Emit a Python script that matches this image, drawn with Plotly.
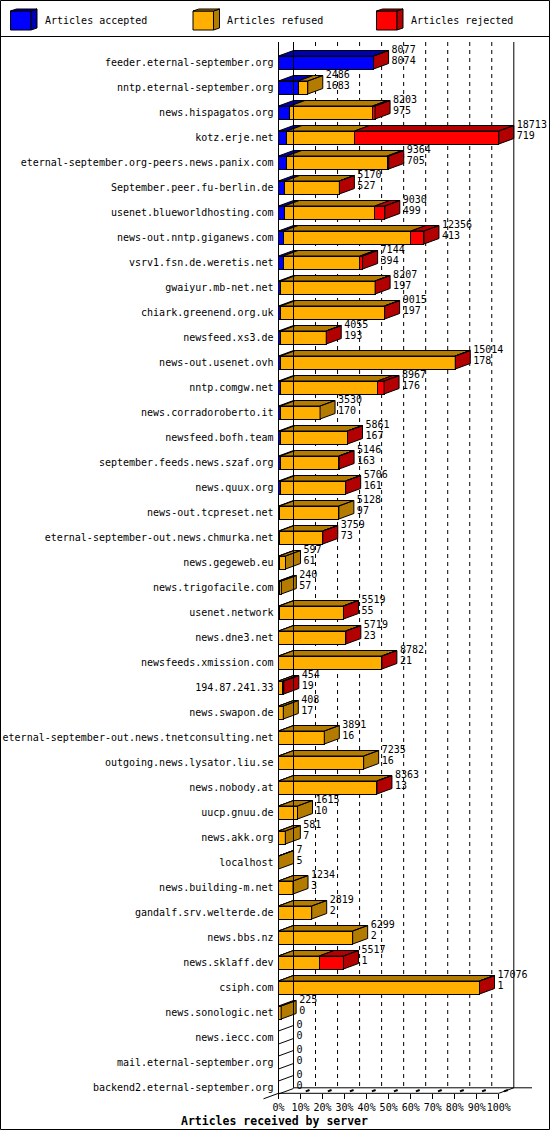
import plotly.graph_objects as go

# Articles received by server (innreport style 3D bars)
servers = [
    'feeder.eternal-september.org', 'nntp.eternal-september.org', 'news.hispagatos.org',
    'kotz.erje.net', 'eternal-september.org-peers.news.panix.com', 'September.peer.fu-berlin.de',
    'usenet.blueworldhosting.com', 'news-out.nntp.giganews.com', 'vsrv1.fsn.de.weretis.net',
    'gwaiyur.mb-net.net', 'chiark.greenend.org.uk', 'newsfeed.xs3.de', 'news-out.usenet.ovh',
    'nntp.comgw.net', 'news.corradoroberto.it', 'newsfeed.bofh.team',
    'september.feeds.news.szaf.org', 'news.quux.org', 'news-out.tcpreset.net',
    'eternal-september-out.news.chmurka.net', 'news.gegeweb.eu', 'news.trigofacile.com',
    'usenet.network', 'news.dne3.net', 'newsfeeds.xmission.com', '194.87.241.33',
    'news.swapon.de', 'eternal-september-out.news.tnetconsulting.net',
    'outgoing.news.lysator.liu.se', 'news.nobody.at', 'uucp.gnuu.de', 'news.akk.org',
    'localhost', 'news.building-m.net', 'gandalf.srv.welterde.de', 'news.bbs.nz',
    'news.sklaff.dev', 'csiph.com', 'news.sonologic.net', 'news.iecc.com',
    'mail.eternal-september.org', 'backend2.eternal-september.org',
]
total = [8077, 2486, 8203, 18713, 9364, 5170, 9030, 12356, 7144, 8207, 9015, 4055, 15014,
         8967, 3530, 5861, 5146, 5706, 5128, 3759, 597, 240, 5519, 5719, 8782, 454, 408,
         3891, 7235, 8363, 1615, 581, 7, 1234, 2819, 6299, 5517, 17076, 225, 0, 0, 0]
accepted = [8074, 1683, 975, 719, 705, 527, 499, 413, 394, 197, 197, 193, 178, 176, 170,
            167, 163, 161, 97, 73, 61, 57, 55, 23, 21, 19, 17, 16, 16, 13, 10, 7, 5, 3, 2,
            2, 1, 1, 0, 0, 0, 0]
refused = [0, 803, 7002, 5745, 8519, 4630, 7681, 10839, 6524, 8000, 8808, 3852, 14826, 8253,
           3360, 5684, 4973, 5535, 5031, 3676, 536, 183, 5444, 5686, 8751, 340, 391, 3875,
           7219, 8340, 1605, 574, 2, 1231, 2817, 6297, 3450, 17066, 225, 0, 0, 0]
rejected = [3, 0, 226, 12249, 140, 13, 850, 1104, 226, 10, 10, 10, 10, 538, 0, 10, 10, 10, 0,
            10, 0, 0, 20, 10, 10, 95, 0, 0, 0, 10, 0, 0, 0, 0, 0, 0, 2066, 9, 0, 0, 0, 0]
series_names = ['Articles accepted', 'Articles refused', 'Articles rejected']
pct_ticks = [0, 10, 20, 30, 40, 50, 60, 70, 80, 90, 100]

FRONT = ['#0000FF', '#FFAF00', '#FF0000']
DARK = ['#0000B3', '#B37B00', '#B30000']
FONT = 'DejaVu Sans Mono'

# pixel geometry of the picture
W, HGT = 550, 1130
L, R, T, B = 258, 545, 42, 1100
X0_PX, PX_PER_PCT = 278.5, 2.203
ROW0_PX, ROW_PX = 62.5, 25.0
DX = 15 / PX_PER_PCT
DY = 5.5 / ROW_PX
BAR_H = 13 / ROW_PX
FLOOR_F = (1093.3 - ROW0_PX) / ROW_PX
FLOOR_B = FLOOR_F - DY
TOP = (T - ROW0_PX) / ROW_PX
LABEL_GAP = 3 / PX_PER_PCT


def px_x(px):
    return (px - L) / (R - L)


def px_y(py):
    return (B - py) / (B - T)


def to_pct(v):
    return v / max(total) * 100


rows = list(range(len(servers)))
seg = [accepted, refused, rejected]

fig = go.Figure()

# front faces
for k in range(3):
    fig.add_trace(go.Bar(
        y=rows, x=[to_pct(v) for v in seg[k]], orientation='h', width=BAR_H,
        marker=dict(color=FRONT[k], line=dict(color='black', width=1)),
        name=series_names[k], hoverinfo='skip'))

# top and side faces
poly = {k: ([], []) for k in range(3)}
empty = ([], [])
for i in rows:
    yt, yb = i - BAR_H / 2, i + BAR_H / 2
    edges = [0]
    for k in range(3):
        edges.append(edges[-1] + to_pct(seg[k][i]))
    last = None
    for k in range(3):
        s, e = edges[k], edges[k + 1]
        if seg[k][i] > 0:
            last = k
            xs, ys = poly[k]
            xs += [s, e, e + DX, s + DX, s, None]
            ys += [yt, yt, yt - DY, yt - DY, yt, None]
    e = edges[3]
    if last is None:
        empty[0].extend([0, DX, None, 0, DX, None])
        empty[1].extend([yt, yt - DY, None, yb, yb - DY, None])
    else:
        xs, ys = poly[last]
        xs += [e, e + DX, e + DX, e, e, None]
        ys += [yt, yt - DY, yb - DY, yb, yt, None]

for k in range(3):
    fig.add_trace(go.Scatter(
        x=poly[k][0], y=poly[k][1], mode='lines', fill='toself', fillcolor=DARK[k],
        line=dict(color='black', width=1), hoverinfo='skip'))
fig.add_trace(go.Scatter(x=empty[0], y=empty[1], mode='lines',
                         line=dict(color='black', width=1), hoverinfo='skip'))

# value labels: total above, accepted below
label_x = [to_pct(t) + DX + LABEL_GAP for t in total]
fig.add_trace(go.Scatter(
    x=label_x, y=[i - 0.47 for i in rows],
    text=[str(t) for t in total], mode='text', textposition='middle right',
    textfont=dict(family=FONT, size=10, color='black'), cliponaxis=False, hoverinfo='skip'))
fig.add_trace(go.Scatter(
    x=label_x, y=[i - 0.03 for i in rows],
    text=[str(a) for a in accepted], mode='text', textposition='middle right',
    textfont=dict(family=FONT, size=10, color='black'), cliponaxis=False, hoverinfo='skip'))

shapes = []
line = dict(color='black', width=1)
# walls and grid
shapes.append(dict(type='line', xref='x', yref='y', x0=0, x1=0, y0=TOP, y1=FLOOR_F, line=line))
shapes.append(dict(type='line', xref='x', yref='y', x0=DX, x1=DX, y0=TOP, y1=FLOOR_B, line=line))
shapes.append(dict(type='line', xref='x', yref='y', x0=100 + DX, x1=100 + DX, y0=TOP,
                   y1=FLOOR_B, line=line))
for p in pct_ticks[1:-1]:
    shapes.append(dict(type='line', xref='x', yref='y', x0=p + DX, x1=p + DX, y0=TOP,
                       y1=FLOOR_B, line=dict(color='black', width=1, dash='4px,4px'),
                       layer='below'))
# floor
shapes.append(dict(type='line', xref='x', yref='y', x0=0, x1=100, y0=FLOOR_F, y1=FLOOR_F,
                   line=line))
shapes.append(dict(type='line', xref='x', yref='y', x0=DX, x1=(532 - X0_PX) / PX_PER_PCT,
                   y0=FLOOR_B, y1=FLOOR_B, line=line))
shapes.append(dict(type='line', xref='x', yref='y', x0=100, x1=100 + DX, y0=FLOOR_F,
                   y1=FLOOR_B, line=line))
shapes.append(dict(type='line', xref='x', yref='y', x0=-DX, x1=0, y0=FLOOR_F + DY,
                   y1=FLOOR_F, line=line))
for p in pct_ticks[1:]:
    shapes.append(dict(type='line', xref='x', yref='y', x0=p + 0.35 * DX, x1=p + 0.6 * DX,
                       y0=FLOOR_F - 0.35 * DY, y1=FLOOR_F - 0.6 * DY,
                       line=dict(color='black', width=2)))

# outer frame and legend box
shapes.append(dict(type='rect', xref='paper', yref='paper', x0=px_x(0.5), x1=px_x(549.5),
                   y0=px_y(1129.5), y1=px_y(0.5), line=line))
shapes.append(dict(type='line', xref='paper', yref='paper', x0=px_x(0), x1=px_x(550),
                   y0=px_y(36.5), y1=px_y(36.5), line=line))

annotations = []
legend_x = [10.5, 193, 376.5]
for k in range(3):
    x0, x1, y0, y1 = legend_x[k], legend_x[k] + 20.5, 11, 30
    shapes.append(dict(type='rect', xref='paper', yref='paper', x0=px_x(x0), x1=px_x(x1),
                       y0=px_y(y1), y1=px_y(y0), fillcolor=FRONT[k], line=line))
    side = 'M {},{} L {},{} L {},{} L {},{} Z'.format(
        px_x(x1), px_y(y0), px_x(x1 + 6), px_y(y0 - 2), px_x(x1 + 6), px_y(y1 - 2),
        px_x(x1), px_y(y1))
    shapes.append(dict(type='path', xref='paper', yref='paper', path=side,
                       fillcolor=DARK[k], line=line))
    top = 'M {},{} L {},{} L {},{} L {},{} Z'.format(
        px_x(x0), px_y(y0), px_x(x1), px_y(y0), px_x(x1 + 6), px_y(y0 - 2),
        px_x(x0 + 6), px_y(y0 - 2))
    shapes.append(dict(type='path', xref='paper', yref='paper', path=top,
                       fillcolor=DARK[k], line=line))
    annotations.append(dict(xref='paper', yref='paper', x=px_x(x1 + 11.5), y=px_y(21),
                            text=series_names[k], showarrow=False, xanchor='left',
                            yanchor='middle', font=dict(family=FONT, size=10, color='black')))

annotations.append(dict(xref='paper', yref='paper', x=px_x(274), y=px_y(1121),
                        text='<b>Articles received by server</b>', showarrow=False,
                        xanchor='center', yanchor='middle',
                        font=dict(family=FONT, size=11.5, color='black')))

fig.update_layout(
    width=W, height=HGT,
    margin=dict(l=L, r=W - R, t=T, b=HGT - B, autoexpand=False),
    barmode='stack', showlegend=False,
    paper_bgcolor='white', plot_bgcolor='white',
    shapes=shapes, annotations=annotations,
    xaxis=dict(range=[(L - X0_PX) / PX_PER_PCT, (R - X0_PX) / PX_PER_PCT],
               anchor='free', position=px_y(1093.3),
               tickvals=pct_ticks, ticktext=[f'{p}%' for p in pct_ticks],
               ticks='outside', ticklen=5, tickcolor='black', tickangle=0,
               showgrid=False, zeroline=False, showline=False,
               tickfont=dict(family=FONT, size=10, color='black')),
    yaxis=dict(range=[(B - ROW0_PX) / ROW_PX, TOP],
               anchor='free', position=px_x(X0_PX),
               tickvals=rows, ticktext=servers,
               ticks='outside', ticklen=3, tickcolor='rgba(0,0,0,0)',
               showgrid=False, zeroline=False, showline=False,
               tickfont=dict(family=FONT, size=10, color='black')),
)

fig.write_html("out.html", config={'displayModeBar': False},
               post_script="document.body.style.margin = '0';")
